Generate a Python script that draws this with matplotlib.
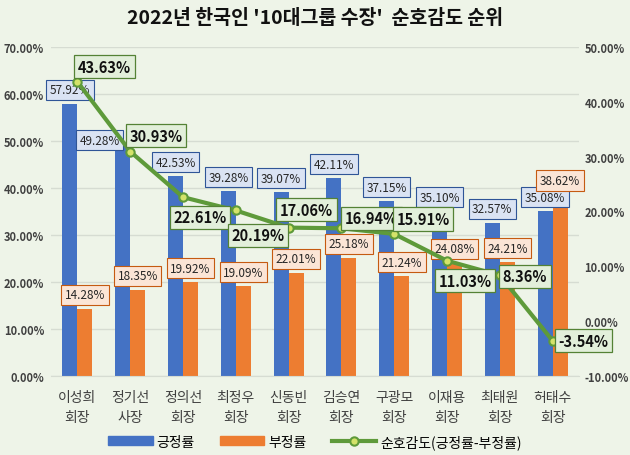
import numpy as np
import matplotlib
matplotlib.use('Agg')
import matplotlib.pyplot as plt
import matplotlib.ticker as ticker
from matplotlib.lines import Line2D
from matplotlib.patches import Patch

plt.rcParams['font.family'] = ['Noto Sans CJK KR', 'DejaVu Sans']

# 데이터
names = ['이성희\n회장', '정기선\n사장', '정의선\n회장', '최정우\n회장', '신동빈\n회장',
         '김승연\n회장', '구광모\n회장', '이재용\n회장', '최태원\n회장', '허태수\n회장']
positive = [57.92, 49.28, 42.53, 39.28, 39.07, 42.11, 37.15, 35.10, 32.57, 35.08]
negative = [14.28, 18.35, 19.92, 19.09, 22.01, 25.18, 21.24, 24.08, 24.21, 38.62]
net = [43.63, 30.93, 22.61, 20.19, 17.06, 16.94, 15.91, 11.03, 8.36, -3.54]

# 라벨 위치 (픽셀 오프셋)
net_off = [(27, 15), (26, 16), (17, -20), (22, -25), (18, 18),
           (30, 10), (29, 15), (18, -20), (25, -1), (31, 0)]
pos_off = [(0, 14), (-23, 4), (0, 14), (0, 14), (0, 14),
           (0, 14), (0, 14), (0, 14), (0, 14), (0, 14)]

bg = '#EEF4E8'
blue = '#4472C4'
orange = '#ED7D31'
green = '#5E9A3A'
px = 0.72  # 1px -> pt (dpi 100)

fig = plt.figure(figsize=(6.3, 4.56), dpi=100, facecolor=bg)
ax = fig.add_axes([0.081, 0.173, 0.838, 0.722])
ax.set_facecolor(bg)

x = np.arange(len(names))
w = 0.285
ax.bar(x - w / 2, positive, w, color=blue, zorder=2)
ax.bar(x + w / 2, negative, w, color=orange, zorder=2)

ax.set_xlim(-0.5, len(names) - 0.5)
ax.set_ylim(0, 70)
ax.yaxis.set_major_locator(ticker.MultipleLocator(10))
ax.yaxis.set_major_formatter(ticker.FuncFormatter(lambda v, p: '%.2f%%' % v))
ax.grid(axis='y', color='#D6DCD2', lw=1, zorder=0)
ax.set_xticks(x)
ax.set_xticklabels(names, fontsize=10, color='#404040', linespacing=1.55)
ax.tick_params(axis='x', length=0, pad=10)
ax.tick_params(axis='y', length=0, pad=5, labelsize=8, labelcolor='#404040')
for t in ax.get_yticklabels():
    t.set_fontweight('bold')
for s in ax.spines.values():
    s.set_visible(False)
ax.spines['bottom'].set_visible(True)
ax.spines['bottom'].set_color('#D6DCD2')

ax2 = ax.twinx()
ax2.set_ylim(-10, 50)
ax2.yaxis.set_major_locator(ticker.MultipleLocator(10))
ax2.yaxis.set_major_formatter(ticker.FuncFormatter(lambda v, p: '%.2f%%' % v))
ax2.tick_params(axis='y', length=0, pad=4, labelsize=8, labelcolor='#404040')
for t in ax2.get_yticklabels():
    t.set_fontweight('bold')
for s in ax2.spines.values():
    s.set_visible(False)
ax2.plot(x, net, color=green, lw=3, marker='o', ms=6, mfc='#D4E36A',
         mec=green, mew=1.5, zorder=5)

# 막대 라벨
for i in range(len(names)):
    ax.annotate('%.2f%%' % positive[i], (x[i] - w / 2, positive[i]),
                xytext=(pos_off[i][0] * px, pos_off[i][1] * px), textcoords='offset points',
                ha='center', va='center', fontsize=8.5, color='#262626', zorder=6,
                bbox=dict(boxstyle='square,pad=0.3', fc='#DAE3F3', ec='#2F5597', lw=0.8))
    ax.annotate('%.2f%%' % negative[i], (x[i] + w / 2, negative[i]),
                xytext=(0, 14 * px), textcoords='offset points',
                ha='center', va='center', fontsize=8.5, color='#262626', zorder=6,
                bbox=dict(boxstyle='square,pad=0.3', fc='#FBE5D6', ec='#C55A11', lw=0.8))
    ax2.annotate('%.2f%%' % net[i], (x[i], net[i]),
                 xytext=(net_off[i][0] * px, net_off[i][1] * px), textcoords='offset points',
                 ha='center', va='center', fontsize=10.5, fontweight='bold', color='#111111',
                 zorder=7,
                 bbox=dict(boxstyle='square,pad=0.25', fc='#E2EFDA', ec='#548235', lw=0.9))

fig.text(0.5, 0.96, "2022년 한국인 '10대그룹 수장'  순호감도 순위", ha='center', va='center',
         fontsize=14, fontweight='bold', color='#111111')

handles = [Patch(color=blue), Patch(color=orange),
           Line2D([0], [0], color=green, lw=3, marker='o', ms=6, mfc='#D4E36A', mec=green, mew=1.5)]
fig.legend(handles, ['긍정률', '부정률', '순호감도(긍정률-부정률)'], loc='center',
           bbox_to_anchor=(0.5, 0.03), ncol=3, frameon=False, fontsize=10,
           handlelength=3.2, handleheight=0.6, columnspacing=1.8, handletextpad=0.3)

fig.savefig('out.png', dpi=100, facecolor=bg)
